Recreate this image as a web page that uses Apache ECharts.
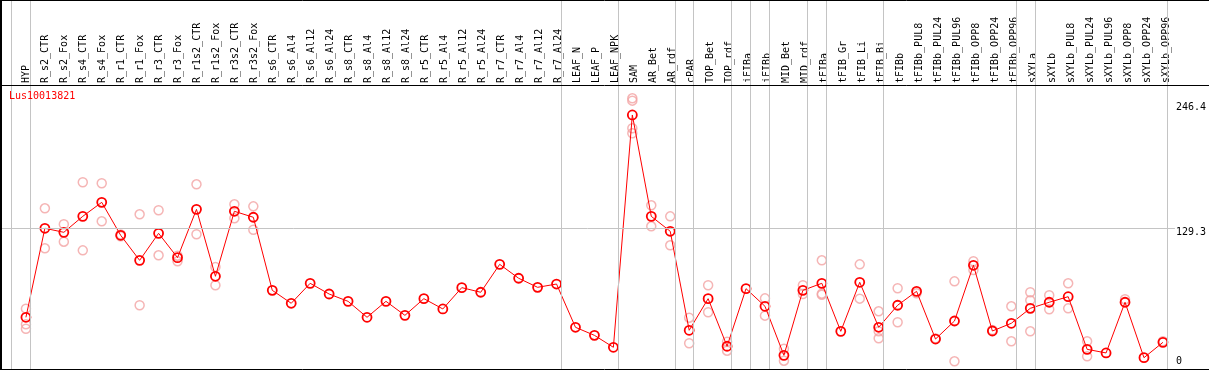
<!DOCTYPE html>
<html>
<head>
<meta charset="utf-8">
<script src="https://cdn.jsdelivr.net/npm/echarts@6/dist/echarts.min.js"></script>
<style>
html,body{margin:0;padding:0;background:#fff;}
#chart{width:1209px;height:370px;}
</style>
</head>
<body>
<div id="chart"></div>
<script>
// ---------- data ----------
const geneName = 'Lus10013821';
const categories = ['HYP','R_s2_CTR','R_s2_Fox','R_s4_CTR','R_s4_Fox','R_r1_CTR','R_r1_Fox','R_r3_CTR','R_r3_Fox','R_r1s2_CTR','R_r1s2_Fox','R_r3s2_CTR','R_r3s2_Fox','R_s6_CTR','R_s6_Al4','R_s6_Al12','R_s6_Al24','R_s8_CTR','R_s8_Al4','R_s8_Al12','R_s8_Al24','R_r5_CTR','R_r5_Al4','R_r5_Al12','R_r5_Al24','R_r7_CTR','R_r7_Al4','R_r7_Al12','R_r7_Al24','LEAF_N','LEAF_P','LEAF_NPK','SAM','AR_Bet','AR_rdf','cPAR','TOP_Bet','TOP_rdf','iFIBa','iFIBb','MID_Bet','MID_rdf','tFIBa','tFIB_Gr','tFIB_Li','tFIB_Bi','tFIBb','tFIBb_PUL8','tFIBb_PUL24','tFIBb_PUL96','tFIBb_OPP8','tFIBb_OPP24','tFIBb_OPP96','sXYLa','sXYLb','sXYLb_PUL8','sXYLb_PUL24','sXYLb_PUL96','sXYLb_OPP8','sXYLb_OPP24','sXYLb_OPP96'];
const meanValues = [42.9,129.3,125.4,140.9,154.5,122.5,98.2,124.4,100.8,147.7,82.7,145.8,140.0,69.1,56.5,75.9,65.5,58.4,42.9,58.4,44.8,61.0,51.0,71.7,67.2,94.3,80.8,72.0,75.2,33.2,25.4,13.8,239.3,140.9,126.4,30.3,61.0,14.8,70.7,53.6,6.0,69.1,75.9,29.3,76.9,33.2,54.6,68.1,21.8,39.3,93.4,29.6,37.1,51.6,57.5,62.9,11.8,8.3,57.5,3.7,18.6];
const replicateValues = [
  [51.3,36.1,31.8],[148.7,109.9],[133.2,116.3],[174.0,107.9],[173.0,136.1],[123.3,121.6],[142.9,54.6],[146.8,103.1],[102.7,97.3],[172.0,123.5],[91.7,74.0],[152.6,139.0],[150.6,127.9],
  [],[],[],[],[],[],[],[],[],[],[],[],[],[],[],[],[],[],[],
  [255.5,253.2,226.4,221.5],[151.6,131.2],[140.9,112.8],[42.5,17.7],[74.0,47.8],[19.2,10.5],[],[61.3,44.5],[12.4,0.8],[74.0,65.5],[98.2,64.8,65.8],[],[94.3,61.0],[48.7,29.3,22.5],
  [71.1,38.1],[66.2],[22.4],[77.8,0.2],[97.3,88.8],[30.5],[53.6,19.6],[67.2,59.4,29.3],[64.3,50.7],[75.9,51.6],[19.6,5.0],[],[60.4],[],[19.6]
];
const groupEnds = [-1,0,28,31,34,35,37,38,39,41,42,45,52,53,60]; // separators after these category indices
const yTickLabels = [0,129.3,246.4];
const gridValue = 129.3;

// ---------- build ----------
const meanData = meanValues.map((v,i)=>[i,v]);
const repData = [];
replicateValues.forEach((arr,i)=>arr.forEach(v=>repData.push([i,v])));
const sepOffset = 4.5/19;
const font = 'DejaVu Sans Mono';

const chart = echarts.init(document.getElementById('chart'), null, {renderer:'canvas'});
chart.setOption({
  animation:false,
  backgroundColor:'#fff',
  title:{text:geneName,left:4,top:86,textStyle:{color:'#ff0000',fontFamily:font,fontSize:10,fontWeight:'normal'}},
  grid:[
    {left:0,right:31,top:0,bottom:1},
    {left:16.5,right:33.5,top:0,height:85}
  ],
  xAxis:[
    {type:'value',gridIndex:0,min:-26/19,max:1152/19,show:false,splitLine:{show:false}},
    {type:'category',gridIndex:1,data:categories,position:'bottom',boundaryGap:true,
     axisLine:{show:false},axisTick:{show:false},splitLine:{show:false},
     axisLabel:{inside:true,rotate:90,interval:0,margin:2,fontFamily:font,fontSize:10,color:'#000'}}
  ],
  yAxis:[
    {type:'value',gridIndex:0,min:-7.28,max:350.9,position:'right',
     axisLine:{show:false},axisTick:{show:false},splitLine:{show:false},
     axisLabel:{customValues:yTickLabels,margin:1,fontFamily:font,fontSize:10,color:'#000',
       formatter:v=>(Math.abs(v-gridValue)<1e-6 ? '{low|'+v+'}' : String(v)),
       rich:{low:{fontFamily:font,fontSize:10,color:'#000',padding:[8,0,0,0]}}}},
    {type:'value',gridIndex:1,show:false,splitLine:{show:false}}
  ],
  series:[
    {type:'scatter',xAxisIndex:0,yAxisIndex:0,data:repData,symbol:'circle',symbolSize:9,z:2,
     itemStyle:{color:'rgba(0,0,0,0)',borderColor:'#f2a2a2',borderWidth:1.5},
     markLine:{silent:true,symbol:'none',label:{show:false},animation:false,
       lineStyle:{color:'#c4c4c4',width:1,type:'solid'},
       data:groupEnds.map(k=>({xAxis:k+sepOffset})).concat([{yAxis:gridValue}])}},
    {type:'line',xAxisIndex:0,yAxisIndex:0,data:meanData,symbol:'circle',symbolSize:9,z:3,
     lineStyle:{color:'#ff0000',width:1},
     itemStyle:{color:'rgba(0,0,0,0)',borderColor:'#ff0000',borderWidth:1.8}}
  ],
  graphic:[
    {type:'line',shape:{x1:0,y1:0.5,x2:1209,y2:0.5},style:{stroke:'#000',lineWidth:1},z:10},
    {type:'line',shape:{x1:0,y1:85.5,x2:1209,y2:85.5},style:{stroke:'#000',lineWidth:1},z:10},
    {type:'line',shape:{x1:0,y1:369.5,x2:1209,y2:369.5},style:{stroke:'#000',lineWidth:1},z:10},
    {type:'line',shape:{x1:1,y1:0,x2:1,y2:370},style:{stroke:'#000',lineWidth:2},z:10}
  ]
});
</script>
</body>
</html>
